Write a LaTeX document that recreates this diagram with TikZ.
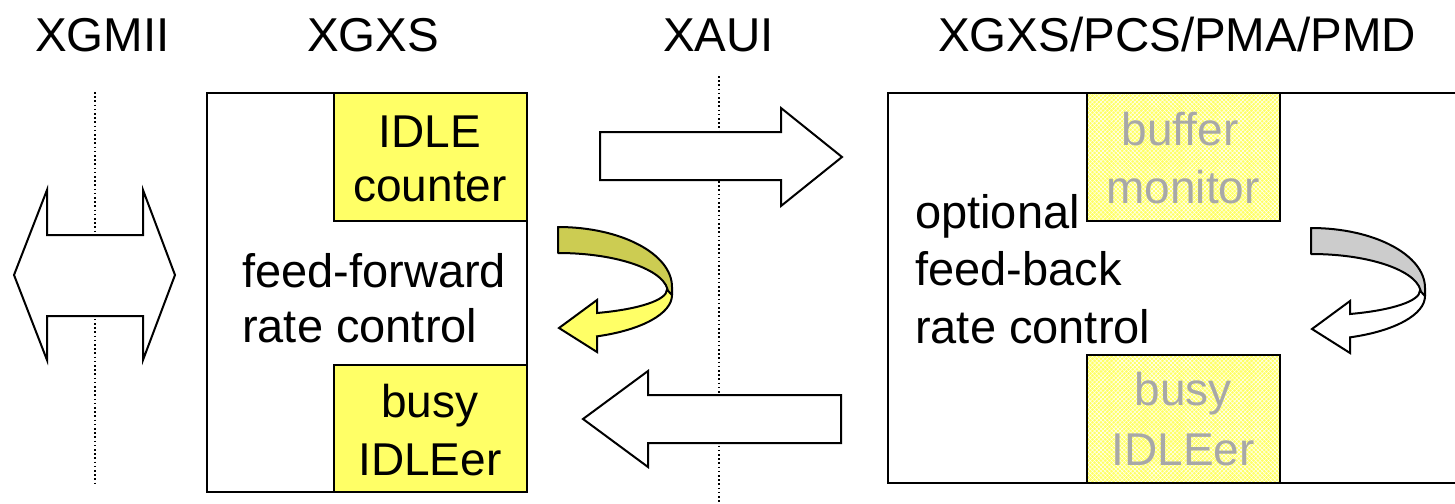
\documentclass[tikz,border=0pt]{standalone}
\usepackage{fontspec}
\setmainfont{Liberation Sans}
\usetikzlibrary{patterns.meta}

\definecolor{yelw}{HTML}{FFFF66}
\definecolor{olive}{HTML}{CCCC52}
\definecolor{band}{HTML}{CCCCCC}
\definecolor{greytext}{HTML}{A8A8A8}

\tikzset{
  outline/.style={draw=black, line width=2pt, line join=miter},
  blockarrow/.style={outline, fill=white},
  unitbox/.style={outline, fill=white},
  solidyellow/.style={outline, fill=yelw},
  hatchyellow/.style={outline, fill=yelw,
    postaction={pattern={Lines[angle=45,distance=3pt,line width=0.45pt]}, pattern color=white},
    postaction={pattern={Lines[angle=-45,distance=3pt,line width=0.45pt]}, pattern color=white},
    postaction={draw=black, line width=2pt}},
  layerline/.style={line width=1.6pt, dash pattern=on 1.6pt off 2.6pt},
  title/.style={font=\fontsize{47.5}{56}\selectfont, inner sep=0pt},
  body/.style={font=\fontsize{47}{55}\selectfont, inner sep=0pt},
  boxtext/.style={font=\fontsize{46}{54}\selectfont, inner sep=0pt},
  dimmed/.style={boxtext, text=greytext},
  % U-turn ribbon arrow: back band in #1, front band with head in #2
  pics/uturn/.style 2 args={code={
    \path[draw=black, line width=2pt, line join=round, fill=#1]
      (0,0) arc[start angle=-90, end angle=0, x radius=114, y radius=60]
      -- (114,68) -- (110,66)
      arc[start angle=0, end angle=-90, x radius=110, y radius=40]
      -- cycle;
    \path[draw=black, line width=2pt, line join=miter, fill=#2]
      (114,68) arc[start angle=0, end angle=70, x radius=114, y radius=44]
      -- (39,125) -- (1,101) -- (39,73) -- (39,86)
      arc[start angle=69, end angle=0, x radius=109, y radius=25]
      -- cycle;
  }}
}

\begin{document}
\begin{tikzpicture}[x=1pt, y=-1pt]
\useasboundingbox (0,0) rectangle (1455,503);

% interface boundaries
\coordinate (xgmiiTop) at (95,92);
\coordinate (xgmiiBot) at (95,483);
\coordinate (xauiTop) at (719,76);
\coordinate (xauiBot) at (719,503);
\draw[layerline] (xgmiiTop) -- (xgmiiBot);
\draw[layerline] (xauiTop) -- (xauiBot);

% headings
\node[title, anchor=base west] (hXGMII) at (35,52) {XGMII};
\node[title, anchor=base west] (hXGXS) at (307,52) {XGXS};
\node[title, anchor=base west] (hXAUI) at (663,52) {XAUI};
\node[title, anchor=base west] (hPHY) at (938,52) {XGXS/PCS/PMA/PMD};

% XGMII bidirectional arrow
\draw[blockarrow] (14,275) -- (47,190) -- (47,235) -- (143,235) -- (143,190)
  -- (175,275) -- (143,360) -- (143,316) -- (47,316) -- (47,360) -- cycle;

% XAUI transmit and receive arrows
\draw[blockarrow] (600,132) -- (781,132) -- (781,108) -- (842,157)
  -- (781,206) -- (781,180) -- (600,180) -- cycle;
\draw[blockarrow] (583,419) -- (648,371) -- (648,395) -- (841,395)
  -- (841,443) -- (648,443) -- (648,467) -- cycle;

% XGXS block
\draw[unitbox] (207,93) rectangle (527,492);
\draw[solidyellow] (334,93) rectangle (527,221);
\draw[solidyellow] (334,365) rectangle (527,492);
\node[boxtext, anchor=base] (idle1) at (430,147) {IDLE};
\node[boxtext, anchor=base] (idle2) at (430,201) {counter};
\node[boxtext, anchor=base] (busy1) at (430,417) {busy};
\node[boxtext, anchor=base] (busy2) at (430,475) {IDLEer};
\node[body, anchor=base west] (ff1) at (242,287) {feed-forward};
\node[body, anchor=base west] (ff2) at (242,342) {rate control};

% PHY block
\draw[unitbox] (888,93) rectangle (1470,483);
\path[hatchyellow] (1087,93) rectangle (1280,221);
\path[hatchyellow] (1087,355) rectangle (1280,483);
\node[dimmed, anchor=base] (buf1) at (1180,145) {buffer};
\node[dimmed, anchor=base] (buf2) at (1183,203) {monitor};
\node[dimmed, anchor=base] (bz1) at (1183,405) {busy};
\node[dimmed, anchor=base] (bz2) at (1183,465) {IDLEer};
\node[body, anchor=base west] (fb1) at (915,228) {optional};
\node[body, anchor=base west] (fb2) at (915,285) {feed-back};
\node[body, anchor=base west] (fb3) at (915,343) {rate control};

% rate control loops
\pic at (558,227) {uturn={olive}{yelw}};
\pic at (1311,228) {uturn={band}{white}};

\end{tikzpicture}
\end{document}
